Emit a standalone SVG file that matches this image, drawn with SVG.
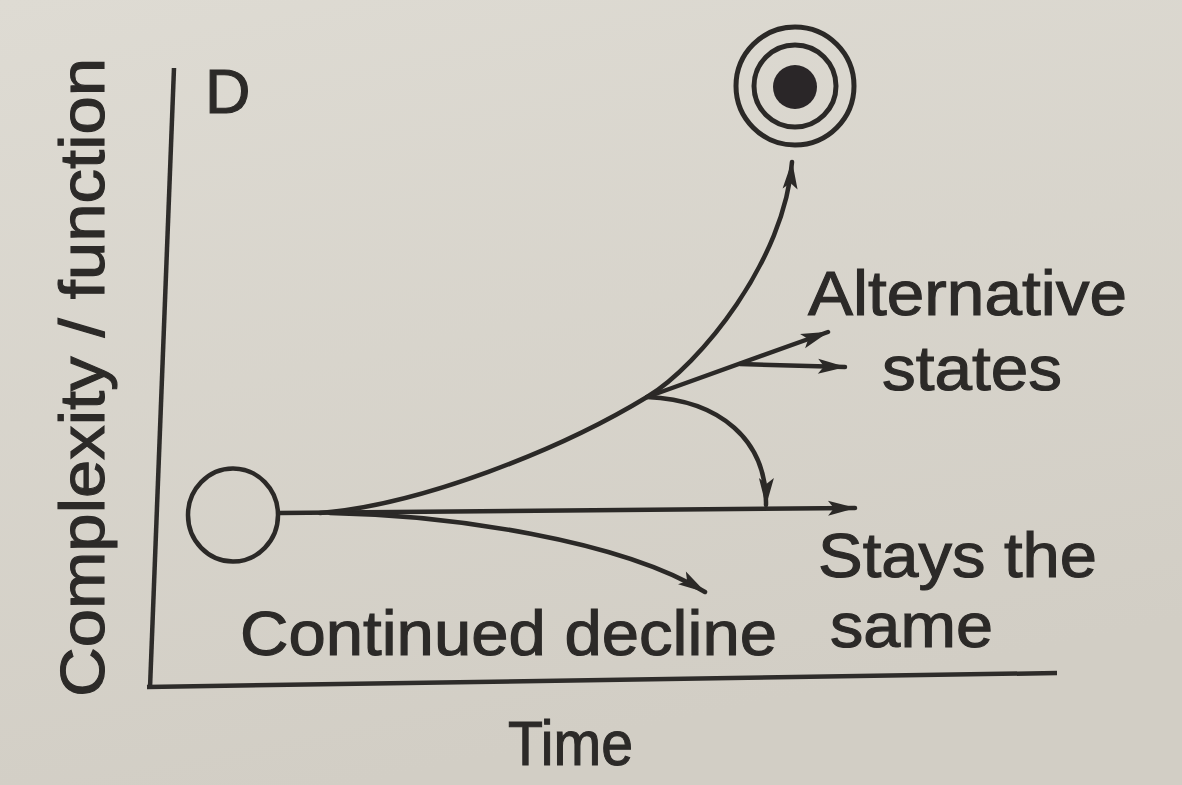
<svg xmlns="http://www.w3.org/2000/svg" width="1182" height="785" viewBox="0 0 1182 785">
  <defs>
    <linearGradient id="bg" x1="0" y1="0" x2="0.3" y2="1">
      <stop offset="0" stop-color="#dedbd3"/>
      <stop offset="1" stop-color="#d2cec5"/>
    </linearGradient>
    <marker id="ah" markerUnits="userSpaceOnUse" viewBox="-30 -9 32 18" refX="0" refY="0" markerWidth="32" markerHeight="18" orient="auto">
      <path d="M1 0 L-27 -7.5 L-21 0 L-27 7.5 Z" fill="#2b2927"/>
    </marker>
    <style>
      .ln { fill: none; stroke: #2b2927; stroke-width: 4.5; stroke-linecap: round; }
      .ax { fill: none; stroke: #2e2c2a; stroke-width: 4.5; stroke-linecap: butt; }
      .tx { font-family: "Liberation Sans", Arial, sans-serif; fill: #2c2a28; stroke: #2c2a28; stroke-width: 1.1; font-size: 63px; }
      .ring { fill: none; stroke: #2b2927; stroke-width: 5; }
    </style>
  </defs>
  <rect x="0" y="0" width="1182" height="785" fill="url(#bg)"/>

  <g id="axes">
    <path class="ax" d="M174 68 L150 688"/>
    <path class="ax" d="M147 687 L1057 673"/>
  </g>

  <g id="labels">
    <text class="tx" x="205" y="113" font-size="50" stroke-width="0.8">D</text>
    <text class="tx" transform="translate(104 697) rotate(-90)" x="0" y="0" font-size="67" textLength="639" lengthAdjust="spacingAndGlyphs">Complexity / function</text>
    <text class="tx" x="508" y="765" textLength="125" lengthAdjust="spacingAndGlyphs">Time</text>
  </g>

  <g id="start-node">
    <ellipse cx="233" cy="515" rx="45" ry="46.5" fill="none" stroke="#2b2927" stroke-width="4.5"/>
  </g>

  <g id="target-node">
    <circle cx="795" cy="86" r="59" class="ring" fill="#e0ddd6"/>
    <circle cx="795" cy="86" r="41" class="ring"/>
    <circle cx="795" cy="87" r="22" fill="#2a2628"/>
  </g>

  <g id="connectors">
    <path class="ln" d="M279 513 L855 508" marker-end="url(#ah)"/>
    <path class="ln" d="M320 513 C420 505 560 450 647 397 C700 365 785 260 792 162" marker-end="url(#ah)"/>
    <path class="ln" d="M330 513 C450 515 620 540 705 592" marker-end="url(#ah)"/>
    <path class="ln" d="M647 397 L828 332" marker-end="url(#ah)"/>
    <path class="ln" d="M740 364 L845 367" marker-end="url(#ah)"/>
    <path class="ln" d="M647 397 C720 400 767 440 766 505" marker-end="url(#ah)"/>
  </g>

  <g id="alternative-label">
    <text class="tx" x="808" y="315" textLength="319" lengthAdjust="spacingAndGlyphs">Alternative</text>
    <text class="tx" x="882" y="390" textLength="180" lengthAdjust="spacingAndGlyphs">states</text>
  </g>
  <g id="same-label">
    <text class="tx" x="818" y="577" textLength="279" lengthAdjust="spacingAndGlyphs">Stays the</text>
    <text class="tx" x="830" y="647" textLength="163" lengthAdjust="spacingAndGlyphs">same</text>
  </g>
  <g id="decline-label">
    <text class="tx" x="240" y="655" textLength="537" lengthAdjust="spacingAndGlyphs">Continued decline</text>
  </g>
</svg>
